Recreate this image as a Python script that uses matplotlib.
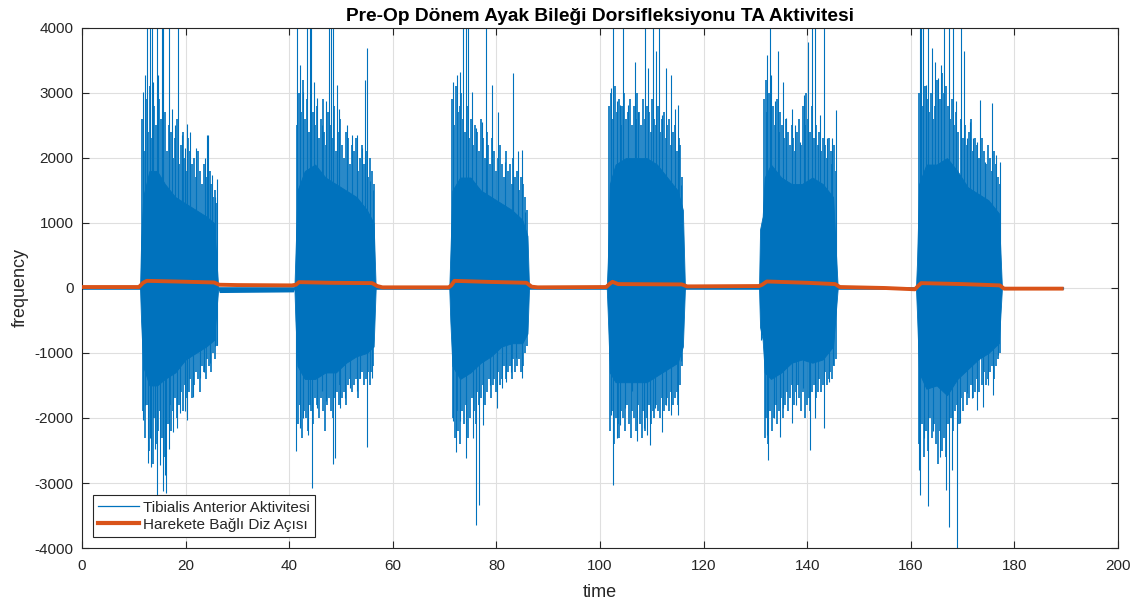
import numpy as np
import matplotlib
matplotlib.use("Agg")
import matplotlib.pyplot as plt
from matplotlib.lines import Line2D

plt.rcParams['font.family'] = ['Liberation Sans', 'DejaVu Sans']
plt.rcParams['axes.unicode_minus'] = False

# ---------------- data ----------------
title = "Pre-Op Dönem Ayak Bileği Dorsifleksiyonu TA Aktivitesi"
xlabel = "time"
ylabel = "frequency"
legend_labels = ["Tibialis Anterior Aktivitesi", "Harekete Bağlı Diz Açısı"]
xticks = [0, 20, 40, 60, 80, 100, 120, 140, 160, 180, 200]
yticks = [-4000, -3000, -2000, -1000, 0, 1000, 2000, 3000, 4000]

# dense EMG core of each burst (time, upper, lower)
b1_t = [11.2, 11.4, 11.8, 13, 14.5, 16, 18, 20, 22, 24, 25.5, 26.3]
b1_hi = [0, 700, 1400, 1800, 1800, 1600, 1400, 1300, 1200, 1100, 1000, 0]
b1_lo = [0, -500, -1200, -1500, -1500, -1400, -1300, -1100, -1000, -900, -800, 0]

b2_t = [41.0, 41.2, 41.6, 43, 45, 47, 49, 51, 53, 55, 56.3, 56.7]
b2_hi = [0, 500, 1500, 1800, 1900, 1700, 1600, 1500, 1400, 1200, 1000, 0]
b2_lo = [0, -500, -1200, -1400, -1400, -1300, -1300, -1150, -1050, -1000, -900, 0]

b3_t = [70.9, 71.1, 71.5, 73, 75, 77, 79, 81, 83, 85, 86.0, 86.3]
b3_hi = [0, 500, 1500, 1700, 1700, 1500, 1400, 1300, 1200, 1050, 800, 0]
b3_lo = [0, -500, -1200, -1400, -1300, -1150, -1050, -900, -850, -850, -700, 0]

b4_t = [101.3, 101.5, 101.9, 103, 105, 107, 109, 111, 113, 115, 116.0, 116.4]
b4_hi = [0, 400, 1600, 1900, 2000, 2000, 2000, 1900, 1700, 1500, 1200, 0]
b4_lo = [0, -400, -1300, -1450, -1450, -1450, -1450, -1350, -1250, -1150, -900, 0]

b5_t = [130.7, 130.9, 131.4, 131.8, 133, 135, 137, 139, 141, 143, 145, 145.9]
b5_hi = [0, 900, 1100, 1700, 1900, 1700, 1600, 1600, 1700, 1600, 1400, 0]
b5_lo = [0, -600, -800, -1300, -1400, -1300, -1150, -1100, -1150, -1100, -900, 0]

b6_t = [161.0, 161.2, 161.6, 163, 165, 167, 169, 171, 173, 175, 177, 177.6]
b6_hi = [0, 400, 1600, 1900, 1900, 2000, 1800, 1550, 1450, 1350, 1150, 0]
b6_lo = [0, -400, -1300, -1550, -1500, -1650, -1400, -1250, -1100, -1000, -850, 0]

# dense texture of each burst: spans and evenly spaced peak values (up / down)
b1_span = (11.6, 26.1)
b1_tex_up = [2600, 2100, 2900, 2400, 3100, 2300, 2800, 2500, 2200, 2900, 2600, 2300, 2700, 2100,
             2500, 2400, 2000, 2300, 2600, 1900, 2200, 2400, 2000, 1800, 2300, 2100, 1900, 2000,
             1700, 2100, 1800, 1600, 1900, 1700, 1500, 1800, 1600, 1400, 1500, 1300]
b1_tex_dn = [-1900, -2300, -1800, -2500, -2100, -2700, -2000, -2400, -2200, -1900, -2300, -2600,
             -2000, -2100, -1800, -2200, -1900, -1700, -2000, -1800, -1600, -1900, -1500, -1700,
             -1600, -1400, -1700, -1500, -1300, -1400, -1600, -1200, -1300, -1400, -1100, -1200,
             -1300, -1000, -1100, -900]
b2_span = (41.5, 56.3)
b2_tex_up = [2500, 3000, 2700, 3200, 2600, 2900, 2400, 3100, 2700, 2500, 2800, 2300, 2600, 2900,
             2400, 2200, 2700, 2500, 2300, 2800, 2100, 2400, 2600, 2200, 2000, 2400, 2300, 1900,
             2200, 2100, 2300, 1800, 2000, 2200, 1900, 2100, 1700, 2000, 1800, 1600]
b2_tex_dn = [-2100, -1800, -2300, -1900, -2000, -2200, -1800, -1900, -2100, -1700, -1800, -2000,
             -1700, -1900, -2200, -1800, -1700, -1900, -2000, -1700, -1600, -1800, -1500, -1700,
             -1600, -1800, -1500, -1400, -1600, -1500, -1400, -1700, -1400, -1300, -1500, -1400,
             -1300, -1500, -1300, -1200]
b3_span = (71.4, 85.9)
b3_tex_up = [2900, 2500, 3100, 2700, 2800, 3000, 2600, 2400, 2800, 2300, 2600, 2200, 2500, 2400,
             2100, 2600, 2300, 2000, 2400, 2200, 1900, 2300, 2100, 1800, 2000, 2200, 1900, 1700,
             2100, 1800, 1900, 1600, 2000, 1700, 1800, 1500, 1700, 1600, 1400, 1200]
b3_tex_dn = [-2000, -2300, -1900, -2200, -2400, -1900, -2100, -1800, -2300, -2000, -1700, -1900,
             -2100, -1600, -1800, -1700, -1500, -1800, -1600, -1400, -1700, -1500, -1400, -1600,
             -1300, -1500, -1400, -1200, -1400, -1300, -1200, -1400, -1100, -1300, -1200, -1100,
             -1300, -1200, -1000, -900]
b4_span = (101.8, 115.9)
b4_tex_up = [2800, 3000, 2600, 3100, 2700, 2900, 2500, 2800, 3000, 2600, 2700, 2900, 2500, 2800,
             2600, 3000, 2700, 2500, 2900, 2600, 2800, 2700, 2400, 2900, 2600, 2500, 2800, 2400,
             2600, 2700, 2300, 2500, 2600, 2200, 2400, 2500, 2100, 2300, 2200, 1700]
b4_tex_dn = [-2200, -1900, -2400, -2000, -2100, -2300, -1900, -2000, -2200, -1800, -2100, -2300,
             -1900, -2000, -2200, -1800, -2100, -2300, -1900, -2200, -2000, -1800, -2100, -1900,
             -2000, -1800, -1900, -2000, -1700, -1900, -1800, -1700, -1900, -1600, -1800, -1700,
             -1600, -1800, -1500, -1200]
b5_span = (131.6, 145.6)
b5_tex_up = [2900, 3200, 2700, 3000, 2600, 2800, 2500, 2900, 2400, 2700, 2500, 2300, 2600, 2400,
             2200, 2500, 2300, 2100, 2400, 2600, 2200, 2800, 2500, 3000, 2600, 2400, 2800, 2300,
             2500, 2200, 2400, 2100, 2300, 2200, 2000, 2300, 2100, 1900, 2200, 1800]
b5_tex_dn = [-2300, -2000, -2400, -1900, -2200, -2000, -1800, -2100, -1900, -1700, -2000, -1800,
             -1600, -1900, -1700, -1500, -1800, -1600, -1500, -1700, -1900, -1600, -2000, -1800,
             -1700, -1900, -1600, -1500, -1700, -1600, -1400, -1600, -1500, -1300, -1500, -1400,
             -1300, -1400, -1200, -1100]
b6_span = (161.5, 177.3)
b6_tex_up = [3000, 3300, 2800, 3100, 2900, 2700, 3000, 2600, 2800, 3200, 2900, 3300, 3000, 3100,
             2800, 2600, 2900, 2500, 2700, 2400, 2600, 2300, 2500, 2200, 2400, 2600, 2100, 2300,
             2200, 2000, 2300, 2100, 1900, 2200, 2000, 1800, 2100, 1900, 1700, 1600]
b6_tex_dn = [-2400, -2100, -2600, -2200, -2500, -2000, -2300, -2100, -2400, -2700, -2200, -2500,
             -2300, -2600, -2100, -2000, -2200, -1900, -1800, -2100, -1700, -1900, -1600, -1800,
             -1700, -1500, -1700, -1600, -1400, -1600, -1500, -1300, -1500, -1400, -1300, -1200,
             -1400, -1200, -1100, -1000]

# individual tall spikes (time, peak value)
b1_up_t = [11.85, 12.2, 12.5, 13.1, 13.45, 13.8, 14.4, 14.75, 15.4, 15.7, 16.7, 17.3, 17.9,
           18.6, 19.3, 19.9, 20.2, 20.85, 22.1, 23.7, 24.1, 24.4, 25.0, 25.7, 26.1]
b1_up_v = [3020, 3280, 4500, 4500, 4500, 3170, 4500, 3280, 4500, 4500, 4500, 2760, 2500,
           4500, 2350, 2150, 2530, 2400, 2150, 2000, 2350, 2350, 1740, 1400, 1680]
b1_dn_t = [11.8, 12.2, 12.8, 13.1, 13.4, 14.0, 14.5, 15.0, 15.7, 16.0, 16.3, 16.8, 17.6,
           18.3, 18.9, 19.9, 20.2, 21.5, 22.7, 23.6, 24.7, 25.6, 26.0]
b1_dn_v = [-2030, -1800, -2690, -2310, -2750, -2470, -3200, -2720, -3130, -2880, -3150, -2470, -2210,
           -2150, -1930, -1900, -2030, -1670, -1390, -1290, -1160, -900, -880]

b2_up_t = [41.6, 42.1, 42.7, 43.4, 44.0, 44.3, 44.7, 45.3, 46.3, 47.2, 47.6, 48.1, 48.5,
           49.2, 49.6, 51.1, 52.1, 53.0, 54.0, 54.6, 55.0, 55.6, 56.1]
b2_up_v = [4500, 3430, 3020, 4500, 4500, 4500, 3170, 2920, 2510, 2870, 4500, 4500, 4500,
           3120, 2760, 2510, 2350, 2350, 2150, 3200, 3690, 1640, 1500]
b2_dn_t = [41.4, 42.1, 42.7, 43.6, 44.4, 45.3, 46.3, 47.2, 48.5, 48.8, 49.8, 50.7, 51.7,
           53.0, 53.6, 55.0, 56.0]
b2_dn_v = [-2500, -2160, -2000, -2260, -3080, -1850, -1590, -1740, -2700, -2620, -1850, -1690, -1540,
           -1590, -1390, -2440, -1390]

b3_up_t = [71.7, 72.3, 73.0, 73.6, 74.1, 74.6, 75.2, 76.1, 77.2, 78.0, 79.1, 80.4, 81.7,
           83.3, 84.2, 84.9, 85.6]
b3_up_v = [3170, 3280, 3330, 4500, 4500, 4500, 3020, 2460, 2560, 4500, 3120, 2710, 1940,
           3300, 2100, 2120, 1170]
b3_dn_t = [71.7, 72.2, 73.0, 74.1, 75.5, 76.1, 76.6, 77.5, 78.8, 80.1, 81.0, 81.9, 82.9,
           83.8, 85.0]
b3_dn_v = [-2050, -2520, -2050, -2620, -2310, -3650, -3340, -2110, -1490, -1850, -1540, -1440, -1290,
           -1080, -1390]

b4_up_t = [102.1, 102.6, 103.2, 103.8, 104.5, 105.5, 106.8, 107.4, 108.7, 109.3, 110.3, 110.9,
           111.4, 111.9, 112.8, 113.8, 114.4, 115.1, 115.7]
b4_up_v = [3070, 4500, 2870, 2820, 4500, 2820, 3480, 2710, 4500, 3380, 4500, 3640,
           4500, 2660, 3380, 3280, 2760, 2820, 1580]
b4_dn_t = [102.1, 102.6, 103.2, 103.8, 104.8, 106.1, 107.1, 108.4, 109.0, 109.6, 110.6, 112.0,
           112.8, 113.8, 115.1, 115.7]
b4_dn_v = [-1950, -3030, -2310, -2110, -1850, -1590, -2360, -2160, -2260, -2410, -1850, -2210,
           -1800, -1950, -1950, -1130]

b5_up_t = [132.2, 132.8, 133.1, 133.8, 134.4, 135.4, 136.0, 137.0, 137.6, 138.6, 139.4, 140.2,
           140.9, 141.5, 142.5, 143.2, 143.8, 144.8, 145.6]
b5_up_v = [3580, 4500, 3280, 2870, 3640, 3170, 2610, 2760, 2510, 2250, 2970, 3790,
           4500, 4500, 2660, 4500, 2300, 2300, 2740]
b5_dn_t = [131.1, 132.2, 132.5, 133.5, 134.8, 135.4, 137.0, 137.9, 139.1, 140.5, 141.5, 143.2,
           144.2, 145.0]
b5_dn_v = [-800, -2260, -2650, -2000, -2290, -1850, -2080, -1800, -1540, -2490, -2000, -2150,
           -1440, -1180]

b6_up_t = [161.8, 162.0, 162.4, 162.9, 163.3, 164.0, 164.6, 165.3, 165.9, 166.5, 167.3, 168.2,
           168.8, 169.6, 170.2, 170.8, 171.4, 172.1, 172.7, 173.3, 174.3, 175.7, 176.5, 177.2]
b6_up_v = [4500, 4500, 4500, 3120, 4500, 3690, 3480, 3230, 3430, 4500, 4500, 4500,
           2870, 4500, 3640, 2300, 2560, 2300, 2250, 2890, 1940, 2840, 2050, 1940]
b6_dn_t = [161.5, 161.8, 162.5, 163.3, 164.2, 165.6, 166.8, 167.4, 168.0, 168.9, 169.5, 170.8,
           171.8, 172.7, 173.9, 175.0, 175.9, 176.8]
b6_dn_v = [-2800, -3180, -2300, -3360, -2200, -2600, -3110, -3670, -2800, -4200, -2080, -1620,
           -1700, -1880, -1830, -1500, -1650, -1030]

# quiet baseline of the EMG between bursts
quiet_t = [0, 26.3, 26.5, 40.8, 41.0, 189.5]
quiet_hi = [20, 20, 20, 20, 20, 20]
quiet_lo = [-20, -20, -70, -60, -20, -20]

# knee angle trace
knee_t = [0, 11.0, 11.8, 12.5, 18, 25.5, 26.5, 30, 40.5, 41.3, 41.9, 48, 56, 57, 58, 70.8, 71.3,
          71.9, 78, 85.8, 86.8, 88, 101.2, 101.8, 102.4, 103.5, 115.8, 116.8, 118, 130.7, 131.3,
          132.2, 140, 145.4, 146.3, 155, 160.8, 161.4, 162.0, 170, 177.2, 178, 189.5]
knee_v = [15, 15, 80, 110, 100, 85, 50, 45, 40, 50, 90, 80, 75, 30, 10, 10, 40,
          110, 95, 80, 20, 10, 15, 60, 95, 60, 55, 25, 25, 30, 50,
          100, 80, 60, 15, 0, -20, 30, 75, 60, 40, -10, -10]

# ---------------- drawing ----------------
BLUE = '#0072BD'
ORANGE = '#D95319'
TXT = '#262626'

fig = plt.figure(figsize=(11.47, 6.03), dpi=100)
ax = fig.add_axes([0.0715, 0.0912, 0.9032, 0.8624])

ax.fill_between(quiet_t, quiet_lo, quiet_hi, color=BLUE, lw=0, zorder=2)

bursts = [(b1_t, b1_hi, b1_lo, b1_span, b1_tex_up, b1_tex_dn, b1_up_t, b1_up_v, b1_dn_t, b1_dn_v),
          (b2_t, b2_hi, b2_lo, b2_span, b2_tex_up, b2_tex_dn, b2_up_t, b2_up_v, b2_dn_t, b2_dn_v),
          (b3_t, b3_hi, b3_lo, b3_span, b3_tex_up, b3_tex_dn, b3_up_t, b3_up_v, b3_dn_t, b3_dn_v),
          (b4_t, b4_hi, b4_lo, b4_span, b4_tex_up, b4_tex_dn, b4_up_t, b4_up_v, b4_dn_t, b4_dn_v),
          (b5_t, b5_hi, b5_lo, b5_span, b5_tex_up, b5_tex_dn, b5_up_t, b5_up_v, b5_dn_t, b5_dn_v),
          (b6_t, b6_hi, b6_lo, b6_span, b6_tex_up, b6_tex_dn, b6_up_t, b6_up_v, b6_dn_t, b6_dn_v)]
for bt, bhi, blo, span, tu, td, ut, uv, dt, dv in bursts:
    ax.fill_between(bt, blo, bhi, color=BLUE, lw=0.6, edgecolor=BLUE, zorder=2)
    tu_t = np.linspace(span[0], span[1], len(tu))
    td_t = np.linspace(span[0] + 0.18, span[1] - 0.05, len(td))
    ax.vlines(tu_t, 0, tu, color=BLUE, lw=1.2, zorder=2)
    ax.vlines(td_t, 0, td, color=BLUE, lw=1.2, zorder=2)
    ax.vlines(ut, 0, uv, color=BLUE, lw=0.8, zorder=2)
    ax.vlines(dt, 0, dv, color=BLUE, lw=0.8, zorder=2)

ax.plot(knee_t, knee_v, color=ORANGE, lw=2.8, zorder=3, solid_capstyle='butt')

ax.set_xlim(0, 200)
ax.set_ylim(-4000, 4000)
ax.set_xticks(xticks)
ax.set_yticks(yticks)
ax.grid(True, color='#DFDFDF', lw=0.8, zorder=0)
ax.set_axisbelow(True)
ax.tick_params(direction='in', top=True, right=True, length=5, width=0.8,
               colors=TXT, labelsize=11, labelcolor=TXT)
ax.tick_params(axis='x', pad=8)
ax.tick_params(axis='y', pad=6)
for s in ax.spines.values():
    s.set_color(TXT)
    s.set_linewidth(0.8)

ax.set_title(title, fontsize=13.8, fontweight='bold', color='black', pad=5)
ax.set_xlabel(xlabel, fontsize=13, color=TXT, labelpad=8)
ax.set_ylabel(ylabel, fontsize=13, color=TXT, labelpad=4)

handles = [Line2D([], [], color=BLUE, lw=0.9), Line2D([], [], color=ORANGE, lw=3)]
leg = ax.legend(handles, legend_labels, loc='lower left', bbox_to_anchor=(0.0105, 0.021),
                borderaxespad=0, fontsize=11, frameon=True, fancybox=False,
                edgecolor=TXT, framealpha=1, handlelength=2.7, labelspacing=0.2,
                borderpad=0.35, handletextpad=0.25)
leg.get_frame().set_linewidth(0.8)
for t in leg.get_texts():
    t.set_color(TXT)

fig.savefig('out.png', dpi=100)
